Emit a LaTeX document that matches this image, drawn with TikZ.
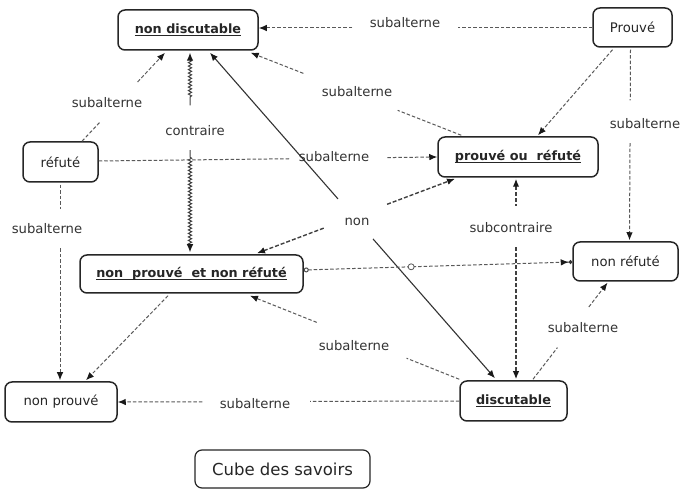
\documentclass[tikz,border=0pt]{standalone}
\usepackage{fontspec}
\setmainfont{DejaVu Sans}
\usetikzlibrary{arrows.meta,calc,decorations.pathmorphing}
\newcommand{\labfont}{\fontsize{13.2}{15}\selectfont}
\newcommand{\boxfont}{\fontsize{13.2}{15}\selectfont}
\newcommand{\ulfont}{\fontsize{12.8}{15}\selectfont\bfseries}
\newsavebox\ulbox
\newcommand{\ulx}[1]{\sbox\ulbox{#1}\rlap{\rule[-2.4pt]{\wd\ulbox}{0.9pt}}\usebox\ulbox}
\begin{document}
\begin{tikzpicture}[x=1pt,y=-1pt,
  box/.style={draw=black!85, line width=1.5pt, rounded corners=7pt, fill=white,
    align=center, inner sep=0pt, text=black!85},
  lab/.style={text=black!80, inner sep=0pt, font=\labfont},
  dl/.style={draw=black!65, line width=1pt, dash pattern=on 3.5pt off 2pt},
  dlb/.style={draw=black!75, line width=1.4pt, dash pattern=on 4pt off 2pt},
  sl/.style={draw=black!80, line width=1.1pt},
  tip/.style={-{Latex[length=8pt,width=6.5pt,color=black!90]}},
  stip/.style={{Latex[length=8pt,width=6.5pt,color=black!90]}-},
  wavy/.style={draw=black!75, line width=1pt, decorate,
    decoration={snake, amplitude=1.6pt, segment length=3.5pt, pre length=7pt, post length=7pt}},
  ring/.style={circle, draw=black!65, line width=0.8pt, fill=white, inner sep=0pt, minimum size=6pt}
]
\useasboundingbox (0,0) rectangle (681,489);

% boxes
\node[box, minimum width=140pt, minimum height=40pt] (nd) at (188,30) {\ulfont\ulx{non discutable}};
\node[box, minimum width=79pt, minimum height=39pt] (pv) at (632.5,27.5) {\boxfont Prouvé};
\node[box, minimum width=75pt, minimum height=40pt] (rf) at (60.5,162) {\boxfont réfuté};
\node[box, minimum width=160pt, minimum height=40pt] (pr) at (518,157) {\ulfont\ulx{prouvé ou\ \ réfuté}};
\node[box, minimum width=223pt, minimum height=38pt] (npnr) at (191.5,274) {\ulfont\ulx{non\ \ prouvé\ \ et non réfuté}};
\node[box, minimum width=105pt, minimum height=39pt] (nr) at (625.5,261.5) {\boxfont non réfuté};
\node[box, minimum width=112pt, minimum height=40pt] (np) at (61,402) {\boxfont non prouvé};
\node[box, minimum width=107pt, minimum height=40pt] (di) at (513.5,401) {\ulfont\ulx{discutable}};
\node[box, line width=1.2pt, minimum width=175pt, minimum height=38pt] (cube) at (282.5,469) {\fontsize{16.5}{19}\selectfont Cube des savoirs};

% labels
\node[lab] (la) at (405,23) {subalterne};
\node[lab] (lb) at (357,92) {subalterne};
\node[lab] (lc) at (107,103) {subalterne};
\node[lab] (lcon) at (195,131) {contraire};
\node[lab] (le) at (334,157) {subalterne};
\node[lab] (lnon) at (357,222) {non};
\node[lab] (lsub) at (511,228) {subcontraire};
\node[lab] (li) at (645,124) {subalterne};
\node[lab] (lj) at (47,229) {subalterne};
\node[lab] (lm) at (354,346) {subalterne};
\node[lab] (ln) at (583,328) {subalterne};
\node[lab] (lo) at (255,404) {subalterne};

% connector end points
\coordinate (a1) at ($(pv.west)+(0,0.5)$);   \coordinate (a2) at ($(nd.east)+(0,-2)$);
\coordinate (b1) at ($(pr.north west)+(24,-1)$); \coordinate (b2) at ($(nd.south east)+(-8,2)$);
\coordinate (c1) at ($(rf.north)+(21.5,0)$); \coordinate (c2) at ($(nd.south)+(-23,2)$);
\coordinate (d1) at ($(nd.south)+(2,2)$);    \coordinate (d2) at ($(npnr.north)+(-1.5,-2)$);
\coordinate (e1) at ($(rf.east)+(0,-1)$);    \coordinate (e2) at (pr.west);
\coordinate (f1) at ($(nd.south)+(22,2)$);   \coordinate (f2) at ($(di.north)+(-18.5,-2)$);
\coordinate (g1) at ($(npnr.north)+(65.5,-1)$); \coordinate (g2) at ($(pr.south)+(-63,1)$);
\coordinate (h1) at ($(pr.south)+(-2,1)$);   \coordinate (h2) at ($(di.north)+(2.5,-1)$);
\coordinate (i1) at ($(pv.south)+(-20,2)$);  \coordinate (i2) at ($(pr.north)+(20,-1)$);
\coordinate (j1) at ($(pv.south)+(-2,2)$);   \coordinate (j2) at ($(nr.north)+(4,-1)$);
\coordinate (k1) at ($(rf.south)+(-0.5,2)$); \coordinate (k2) at ($(np.north)+(-1,-1)$);
\coordinate (l1) at ($(npnr.south)+(-23.5,2)$); \coordinate (l2) at ($(np.north)+(25,-1)$);
\coordinate (m1) at ($(npnr.east)+(0,-4)$);  \coordinate (m2) at ($(nr.west)+(0,0.5)$);
\coordinate (n1) at ($(di.north west)+(0,-1)$); \coordinate (n2) at ($(npnr.south)+(58.5,2)$);
\coordinate (o1) at ($(di.north)+(19.5,-1)$); \coordinate (o2) at ($(nr.south)+(-18,1)$);
\coordinate (p1) at (di.west);               \coordinate (p2) at (np.east);

% a: Prouvé -> non discutable
\draw[dl] (a1) -- ($(a1)!0.403!(a2)$);
\draw[dl,tip] ($(a1)!0.719!(a2)$) -- (a2);
% b: prouvé ou réfuté -> non discutable
\draw[dl] (b1) -- ($(b1)!0.302!(b2)$);
\draw[dl,tip] ($(b1)!0.75!(b2)$) -- (b2);
% c: réfuté -> non discutable
\draw[dl] (c1) -- ($(c1)!0.21!(c2)$);
\draw[dl,tip] ($(c1)!0.67!(c2)$) -- (c2);
% d: contraire (wavy)
\draw[wavy,stip] (d1) -- ($(d1)!0.264!(d2)$);
\draw[wavy,tip] ($(d1)!0.488!(d2)$) -- (d2);
% e: réfuté -> prouvé ou réfuté
\draw[dl] (e1) -- ($(e1)!0.565!(e2)$);
\draw[dl,tip] ($(e1)!0.853!(e2)$) -- (e2);
% f: non (solid)
\draw[sl,stip] (f1) -- ($(f1)!0.449!(f2)$);
\draw[sl,tip] ($(f1)!0.572!(f2)$) -- (f2);
% g: non (dashed)
\draw[dlb,stip] (g1) -- ($(g1)!0.343!(g2)$);
\draw[dlb,tip] ($(g1)!0.657!(g2)$) -- (g2);
% h: subcontraire
\draw[dlb,stip] (h1) -- ($(h1)!0.134!(h2)$);
\draw[dlb,tip] ($(h1)!0.342!(h2)$) -- (h2);
% i: Prouvé -> prouvé ou réfuté
\draw[dl,tip] (i1) -- (i2);
% j: Prouvé -> non réfuté
\draw[dl] (j1) -- ($(j1)!0.266!(j2)$);
\draw[dl,tip] ($(j1)!0.49!(j2)$) -- (j2);
% k: réfuté -> non prouvé
\draw[dl] (k1) -- ($(k1)!0.122!(k2)$);
\draw[dl,tip] ($(k1)!0.325!(k2)$) -- (k2);
% l: non prouvé et non réfuté -> non prouvé
\draw[dl,tip] (l1) -- (l2);
% m: non prouvé et non réfuté -> non réfuté
\draw[dl,{Circle[open,length=5pt,width=5pt,color=black!70]}-{Latex[length=8pt,width=6.5pt,color=black!90]Circle[length=3.5pt,width=4pt,color=black!80]}] (m1) -- (m2);
\node[ring] (mring) at ($(m1)!0.4!(m2)$) {};
% n: discutable -> non prouvé et non réfuté
\draw[dl] (n1) -- ($(n1)!0.252!(n2)$);
\draw[dl,tip] ($(n1)!0.681!(n2)$) -- (n2);
% o: discutable -> non réfuté
\draw[dl] (o1) -- ($(o1)!0.328!(o2)$);
\draw[dl,tip] ($(o1)!0.749!(o2)$) -- (o2);
% p: discutable -> non prouvé
\draw[dl] (p1) -- ($(p1)!0.437!(p2)$);
\draw[dl,tip] ($(p1)!0.752!(p2)$) -- (p2);
\end{tikzpicture}
\end{document}
